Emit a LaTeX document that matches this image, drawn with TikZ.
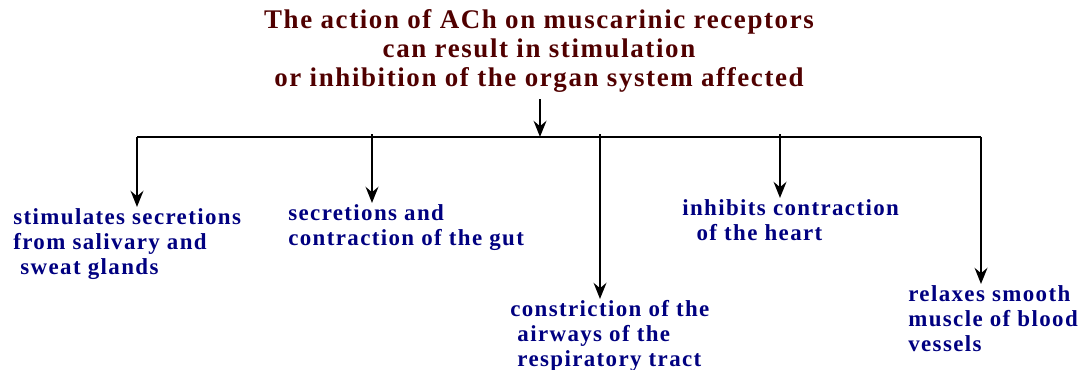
\documentclass[tikz,border=0pt]{standalone}
\usepackage{fontspec}
\setmainfont{Liberation Serif}[LetterSpace=6]
\usetikzlibrary{arrows.meta,positioning}
\definecolor{titlered}{RGB}{80,0,0}
\definecolor{effectblue}{RGB}{0,0,128}

\begin{document}
\begin{tikzpicture}[x=0.75pt, y=-0.75pt, >={Stealth[length=12pt,width=9.5pt]}, line width=2pt,
  effect/.style={anchor=north west, align=left, inner sep=0pt, text=effectblue, font=\fontsize{17.2}{18.75}\selectfont\bfseries},
  heading/.style={align=center, inner sep=0pt, text=titlered, font=\fontsize{20.2}{21.75}\selectfont\bfseries}]
\useasboundingbox (0,0) rectangle (1082,370);
\node[heading] (title) at (539,51) {The action of ACh on muscarinic receptors\\can result in stimulation\\or inhibition of the organ system affected};
\coordinate (hub) at (540,137);
\coordinate (b1) at (137,137);
\coordinate (b2) at (372,137);
\coordinate (b3) at (600,137);
\coordinate (b4) at (780,137);
\coordinate (b5) at (981,137);
\node[effect] (glands) at (12,207) {stimulates secretions\\from salivary and\\\ sweat glands};
\node[effect] (gut) at (287,203) {secretions and\\contraction of the gut};
\node[effect] (airways) at (509,299) {constriction of the\\\ airways of the\\\ respiratory tract};
\node[effect] (heart) at (681,198) {inhibits contraction\\\ \ of the heart};
\node[effect] (vessels) at (907,284) {relaxes smooth\\muscle of blood\\vessels};
\draw[->] ([yshift=-4pt]hub |- title.south) -- (hub);
\draw (b1) -- (b5);
\draw[->] (b1) -- (b1 |- glands.north);
\draw[->] ([yshift=2pt]b2) -- (b2 |- gut.north);
\draw[->] ([yshift=2pt]b3) -- (b3 |- airways.north);
\draw[->] ([yshift=2pt]b4) -- (b4 |- heart.north);
\draw[->] (b5) -- (b5 |- vessels.north);
\end{tikzpicture}
\end{document}
